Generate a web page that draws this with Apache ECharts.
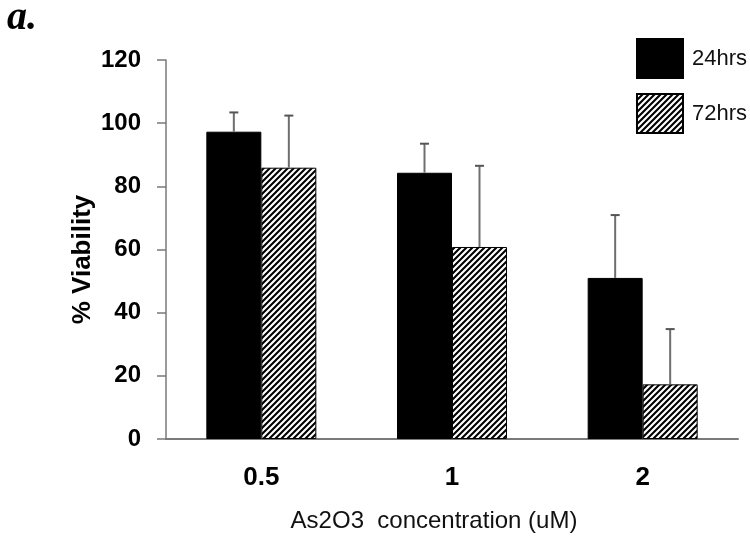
<!DOCTYPE html>
<html>
<head>
<meta charset="utf-8">
<script src="https://cdn.jsdelivr.net/npm/echarts@6/dist/echarts.min.js"></script>
<style>html,body{margin:0;padding:0;background:#fff;}#c{width:750px;height:539px;}</style>
</head>
<body>
<div id="c"></div>
<script>
var categories = ['0.5', '1', '2'];
var seriesNames = ['24hrs', '72hrs'];
var viability24 = [97.3, 84.3, 51.0];
var viability72 = [85.9, 60.8, 17.3];
var err24 = [6.1, 9.2, 19.9];
var err72 = [16.5, 25.7, 17.5];
var yTicks = [0, 20, 40, 60, 80, 100, 120];

function makeHatch() {
  var s = 6;
  var cv = document.createElement('canvas');
  cv.width = s; cv.height = s;
  var ctx = cv.getContext('2d');
  ctx.fillStyle = '#fff';
  ctx.fillRect(0, 0, s, s);
  ctx.strokeStyle = '#000';
  ctx.lineWidth = 2.1;
  ctx.beginPath();
  ctx.moveTo(-1, s + 1); ctx.lineTo(s + 1, -1);
  ctx.moveTo(-1, 1); ctx.lineTo(1, -1);
  ctx.moveTo(s - 1, s + 1); ctx.lineTo(s + 1, s - 1);
  ctx.stroke();
  return cv;
}
var hatch = { image: makeHatch(), repeat: 'repeat' };

var BAR_W = 55;
function errSeries(name, vals, errs, offset) {
  return {
    type: 'custom',
    name: name + ' err',
    z: 5,
    data: vals.map(function (v, i) { return [i, v, v + errs[i]]; }),
    renderItem: function (params, api) {
      var base = api.coord([api.value(0), api.value(1)]);
      var top = api.coord([api.value(0), api.value(2)]);
      var x = base[0] + offset;
      return {
        type: 'group',
        children: [
          { type: 'line', shape: { x1: x, y1: base[1], x2: x, y2: top[1] }, style: { stroke: '#6e6e6e', lineWidth: 2 } },
          { type: 'line', shape: { x1: x - 4.5, y1: top[1], x2: x + 4.5, y2: top[1] }, style: { stroke: '#555', lineWidth: 2 } }
        ]
      };
    }
  };
}

var chart = echarts.init(document.getElementById('c'));
chart.setOption({
  animation: false,
  backgroundColor: '#fff',
  title: {
    text: 'a.', left: 2, top: -6,
    textStyle: { fontFamily: 'Liberation Serif', fontStyle: 'italic', fontWeight: 'bold', fontSize: 40, color: '#000' }
  },
  legend: {
    data: seriesNames,
    orient: 'vertical',
    left: 631, top: 33,
    icon: 'rect',
    itemWidth: 46, itemHeight: 39, itemGap: 14,
    textStyle: { fontFamily: 'Liberation Sans', fontSize: 22, color: '#111', padding: [0, 0, 0, 4] }
  },
  grid: { left: 166, right: 12, top: 60, bottom: 100, containLabel: false },
  xAxis: {
    type: 'category',
    data: categories,
    name: 'As2O3  concentration (uM)',
    nameLocation: 'middle',
    nameGap: 70,
    nameMoveOverlap: false,
    nameTextStyle: { fontFamily: 'Liberation Sans', fontSize: 24, color: '#111', padding: [0, 36, 0, 0] },
    axisLine: { lineStyle: { color: '#7a7a7a', width: 2 } },
    axisTick: { show: false },
    axisLabel: { margin: 26, fontFamily: 'Liberation Sans', fontWeight: 'bold', fontSize: 26, color: '#000' }
  },
  yAxis: {
    type: 'value',
    min: yTicks[0], max: yTicks[yTicks.length - 1], interval: 20,
    name: '% Viability',
    nameLocation: 'middle',
    nameGap: 70,
    nameMoveOverlap: false,
    nameTextStyle: { fontFamily: 'Liberation Sans', fontWeight: 'bold', fontSize: 26, color: '#000', padding: [0, 20, 0, 0] },
    axisLine: { show: true, lineStyle: { color: '#7a7a7a', width: 1.5 } },
    axisTick: { show: true, inside: false, length: 9, lineStyle: { color: '#7a7a7a', width: 1.5 } },
    splitLine: { show: false },
    axisLabel: { margin: 25, fontFamily: 'Liberation Sans', fontWeight: 'bold', fontSize: 24, color: '#000' }
  },
  series: [
    {
      type: 'bar', name: seriesNames[0], data: viability24,
      barWidth: BAR_W, barGap: '0%',
      itemStyle: { color: '#000', borderColor: '#000', borderWidth: 1 }
    },
    {
      type: 'bar', name: seriesNames[1], data: viability72,
      barWidth: BAR_W, barGap: '0%',
      itemStyle: { color: hatch, borderColor: '#000', borderWidth: 1 }
    },
    errSeries(seriesNames[0], viability24, err24, -BAR_W / 2),
    errSeries(seriesNames[1], viability72, err72, BAR_W / 2)
  ]
});
</script>
</body>
</html>
